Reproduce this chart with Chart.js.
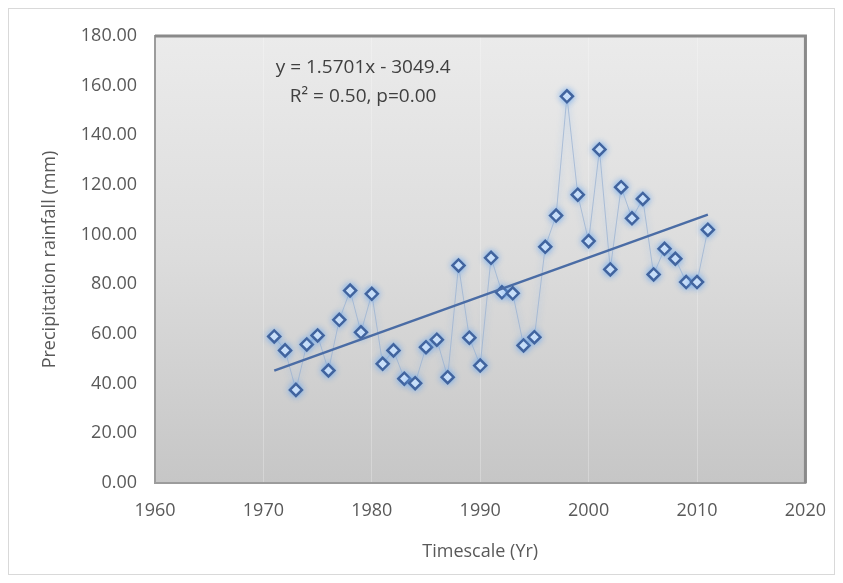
<!DOCTYPE html>
<html>
<head>
<meta charset="utf-8">
<script src="https://cdn.jsdelivr.net/npm/chart.js@4"></script>
<style>
    body { margin: 0; background: #fff; }
    #wrap { width: 843px; height: 583px; }
</style>
</head>
<body>
<div id="wrap"><canvas id="rainChart"></canvas></div>
<script>
const years = [
    1971, 1972, 1973, 1974, 1975, 1976, 1977, 1978, 1979, 1980,
    1981, 1982, 1983, 1984, 1985, 1986, 1987, 1988, 1989, 1990,
    1991, 1992, 1993, 1994, 1995, 1996, 1997, 1998, 1999, 2000,
    2001, 2002, 2003, 2004, 2005, 2006, 2007, 2008, 2009, 2010,
    2011,
];
const rainfall = [
    59.0, 53.4, 37.5, 55.8, 59.4, 45.3, 65.7, 77.5, 60.7, 76.2,
    48.0, 53.4, 42.0, 40.2, 54.7, 57.7, 42.6, 87.6, 58.5, 47.3,
    90.7, 76.8, 76.4, 55.4, 58.7, 95.1, 107.7, 155.7, 116.1, 97.4,
    134.3, 86.0, 119.1, 106.6, 114.4, 84.0, 94.3, 90.3, 80.9, 80.9,
    102.0,
];
// linear trend from the reference equation
const trendSlope = 1.5701;
const trendIntercept = -3049.4;
const trendLabel = 'y = 1.5701x - 3049.4';
const statsLabel = 'R² = 0.50, p=0.00';

const xTitle = 'Timescale (Yr)';
const yTitle = 'Precipitation rainfall (mm)';

const seriesPoints = years.map((y, i) => ({ x: y, y: rainfall[i] }));
const trendYears = [years[0], years[years.length - 1]];
const trendPoints = trendYears.map(y => ({ x: y, y: trendSlope * y + trendIntercept }));

const fontFamily = '"Open Sans", "Liberation Sans", sans-serif';
const textColor = '#595959';

const plotDecor = {
    id: 'plotDecor',
    beforeDraw(chart) {
        const ctx = chart.ctx;
        const a = chart.chartArea;
        ctx.save();
        // outer frame
        ctx.strokeStyle = '#d9d9d9';
        ctx.lineWidth = 1;
        ctx.strokeRect(8.5, 8.5, chart.width - 17, chart.height - 17);
        // plot background gradient
        const g = ctx.createLinearGradient(0, a.top, 0, a.bottom);
        g.addColorStop(0, '#ebebeb');
        g.addColorStop(0.5, '#dcdcdc');
        g.addColorStop(1, '#c6c6c6');
        ctx.fillStyle = g;
        ctx.fillRect(a.left, a.top, a.right - a.left, a.bottom - a.top);
        ctx.restore();
    },
    beforeDatasetsDraw(chart) {
        const ctx = chart.ctx;
        const a = chart.chartArea;
        ctx.save();
        ctx.strokeStyle = '#9c9c9c';
        ctx.lineWidth = 2;
        ctx.strokeRect(a.left, a.top, a.right - a.left, a.bottom - a.top);
        ctx.strokeStyle = '#8a8a8a';
        ctx.lineWidth = 3;
        ctx.beginPath();
        ctx.moveTo(a.left, a.top);
        ctx.lineTo(a.right, a.top);
        ctx.lineTo(a.right, a.bottom);
        ctx.stroke();
        ctx.restore();
    },
    beforeDatasetDraw(chart, args) {
        chart.ctx.save();
        if (args.index === 0) {
            chart.ctx.shadowColor = 'rgba(110, 170, 240, 0.9)';
            chart.ctx.shadowBlur = 6;
        }
    },
    afterDatasetDraw(chart) {
        chart.ctx.restore();
    },
    afterDraw(chart) {
        const ctx = chart.ctx;
        const a = chart.chartArea;
        const cx = a.left + (a.right - a.left) * 0.32;
        ctx.save();
        ctx.fillStyle = '#404040';
        ctx.font = '19px ' + fontFamily;
        ctx.textAlign = 'center';
        ctx.textBaseline = 'middle';
        ctx.fillText(trendLabel, cx, a.top + 32);
        ctx.fillText(statsLabel, cx, a.top + 61);
        ctx.restore();
    }
};

const rainChart = new Chart(document.getElementById('rainChart'), {
    type: 'scatter',
    data: {
        datasets: [{
            label: 'Rainfall',
            data: seriesPoints,
            showLine: true,
            borderColor: 'rgba(150, 175, 210, 0.7)',
            borderWidth: 1,
            pointStyle: 'rectRot',
            pointRadius: 6,
            pointBorderWidth: 2.5,
            pointBorderColor: '#41649f',
            pointBackgroundColor: '#ffffff',
            order: 1,
        }, {
            label: 'Trend',
            data: trendPoints,
            showLine: true,
            borderColor: '#4a6ca5',
            borderWidth: 2.5,
            pointRadius: 0,
            order: 0,
        }]
    },
    options: {
        responsive: true,
        maintainAspectRatio: false,
        animation: false,
        layout: {
            padding: { left: 10, right: 37, top: 36, bottom: 10 }
        },
        plugins: {
            legend: { display: false },
            tooltip: { enabled: false },
        },
        scales: {
            x: {
                type: 'linear',
                min: 1960,
                max: 2020,
                ticks: {
                    stepSize: 10,
                    color: textColor,
                    font: { family: fontFamily, size: 18 },
                    padding: 17,
                    callback: v => String(v),
                },
                grid: { color: 'rgba(255, 255, 255, 0.25)', drawTicks: false },
                border: { display: false },
                title: {
                    display: true,
                    text: xTitle,
                    color: textColor,
                    font: { family: fontFamily, size: 18 },
                    padding: { top: 4, bottom: 10 },
                },
                afterFit(scale) { scale.height = 90; },
            },
            y: {
                min: 0,
                max: 180,
                ticks: {
                    stepSize: 20,
                    color: textColor,
                    font: { family: fontFamily, size: 18 },
                    padding: 18,
                    callback: v => v.toFixed(2),
                },
                grid: { display: false, drawTicks: false },
                border: { display: false },
                title: {
                    display: true,
                    text: yTitle,
                    color: textColor,
                    font: { family: fontFamily, size: 18 },
                    padding: { top: 29, bottom: 4 },
                },
                afterFit(scale) { scale.width = 145; },
            }
        }
    },
    plugins: [plotDecor]
});
</script>
</body>
</html>
